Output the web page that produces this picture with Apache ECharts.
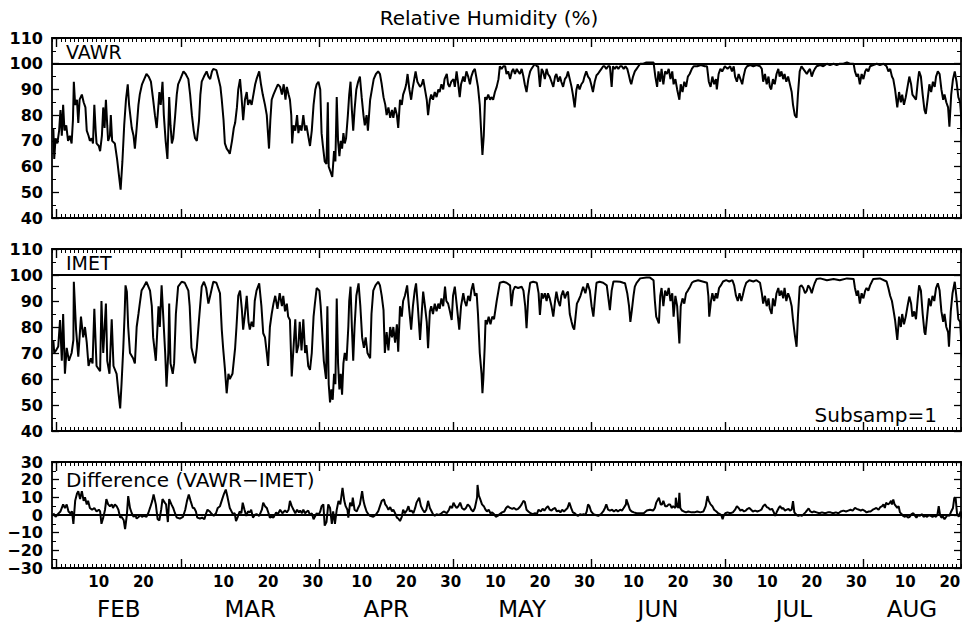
<!DOCTYPE html>
<html><head><meta charset="utf-8">
<script src="https://cdn.jsdelivr.net/npm/echarts@6/dist/echarts.min.js"></script>
<style>html,body{margin:0;padding:0;background:#fff}#c{width:964px;height:622px}</style>
</head><body><div id="c"></div>
<script>
// ---- axis / label data (x = day of year, Jan 1 00:00 = 0) ----
const monthNames = ['FEB','MAR','APR','MAY','JUN','JUL','AUG'];
const monthStarts = [31,59,90,120,151,181,212];
const monthLengths = [28,31,30,31,30,31,31];
const dayLabels = [10,20,30];
const X_MIN = 30, X_MAX = 234;
const rhRange = [40,110];
const diffRange = [-30,30];
const rhRef = 100;
const diffRef = 0;

// ---- series values: [day, value] ----
const vawrRH = [[30.3,75],[30.5,63],[30.8,71],[31.2,69],[31.6,74],[31.9,82],[32.2,72],[32.5,84],[32.8,74],[33.2,76],[33.6,70],[34.0,72],[34.4,69],[34.7,78],[34.9,93],[35.2,84],[35.6,86],[35.9,77],[36.2,86],[36.7,88],[37.1,85],[37.5,83],[37.8,74],[38.2,72],[38.5,70],[38.9,71],[39.2,69],[39.5,84],[39.8,74],[40.0,69],[40.5,68],[40.8,66],[41.2,72],[41.5,83],[41.8,75],[42.1,86],[42.4,76],[42.6,70],[43.0,72],[43.2,80],[43.5,70],[44.1,69],[44.6,63],[45.0,57],[45.4,51],[45.8,62],[46.2,76],[46.6,86],[47.0,92],[47.3,84],[47.9,75],[48.3,72],[48.6,67],[49.0,75],[49.4,84],[49.7,88],[50.2,92],[50.7,94],[51.2,96],[51.7,95],[52.2,93],[52.7,86],[53.1,80],[53.5,75],[53.8,82],[54.1,89],[54.4,84],[54.8,93],[55.1,80],[55.5,70],[55.9,63],[56.1,74],[56.3,87],[56.6,76],[56.9,69],[57.2,71],[57.6,79],[58.0,88],[58.3,92],[58.8,94],[59.5,97],[60.0,96],[60.6,94],[61.0,88],[61.4,80],[61.8,74],[62.1,71],[62.5,70],[63.0,78],[63.3,88],[63.6,93],[64.1,95],[64.7,97],[65.1,95],[65.5,94],[65.9,97],[66.2,98],[66.9,97.5],[67.4,94],[67.8,91],[68.1,86],[68.5,78],[68.8,69],[69.2,67],[69.6,66],[69.9,65],[70.4,70],[70.8,75],[71.1,77],[71.5,83],[71.8,90],[72.2,94],[72.5,88],[72.9,78],[73.3,86],[73.7,89],[74.0,84],[74.4,86],[74.8,84],[75.2,88],[75.6,92],[75.9,94],[76.5,97],[76.9,92],[77.3,88],[77.8,84],[78.2,80],[78.7,67],[79.0,78],[79.3,86],[79.7,88],[80.2,90],[80.7,92],[81.2,91],[81.6,88],[82.0,92],[82.4,86],[82.7,91],[83.1,88],[83.4,86],[83.7,80],[83.9,69],[84.2,76],[84.6,74],[85.0,80],[85.3,73],[85.6,76],[86.0,74],[86.4,80],[86.8,74],[87.1,76],[87.5,72],[87.9,68],[88.3,74],[88.7,84],[89.1,90],[89.4,92],[89.8,93],[90.2,90],[90.5,73],[90.8,68],[91.2,62],[91.6,61],[91.9,85],[92.1,60],[92.5,58],[92.9,56],[93.3,66],[93.6,62],[93.9,87],[94.2,70],[94.5,64],[94.8,70],[95.1,67],[95.4,73],[95.7,69],[96.0,71],[96.4,80],[96.7,88],[97.0,93],[97.3,82],[97.6,74],[97.9,82],[98.3,90],[98.7,93],[99.1,95],[99.5,87],[99.9,80],[100.2,76],[100.6,80],[100.9,74],[101.4,86],[101.8,90],[102.2,94],[102.7,96],[103.2,97],[103.6,96],[104.0,92],[104.4,87],[104.8,84],[105.1,80],[105.5,83],[105.9,79],[106.3,82],[106.6,79],[107.0,83],[107.4,80],[107.7,75],[108.1,86],[108.5,84],[108.8,88],[109.2,90],[109.5,92],[109.8,96],[110.2,90],[110.6,86],[110.9,90],[111.3,94],[111.6,97],[112.0,93],[112.6,91],[113.0,92],[113.3,94],[113.7,90],[114.1,86],[114.4,80],[114.8,86],[115.1,88],[115.5,86],[115.9,89],[116.3,87],[116.7,90],[117.0,89],[117.4,92],[117.8,90],[118.1,94],[118.6,96],[118.9,92],[119.2,91],[119.6,93],[120.1,94],[120.4,91],[120.8,97],[121.1,93],[121.5,87],[121.8,92],[122.3,95],[122.6,93],[123.0,97],[123.4,95],[123.8,92],[124.1,95],[124.5,97],[124.9,98],[125.3,94],[125.6,91],[126.0,84],[126.3,74],[126.6,64.5],[126.9,72],[127.2,87],[127.5,86],[127.9,88],[128.3,86],[128.6,87],[129.0,86],[129.4,89],[129.8,91],[130.2,94],[130.5,99],[130.9,98],[131.3,99],[131.7,99],[132.0,96],[132.4,97],[132.8,94],[133.2,97],[133.5,98],[133.9,96],[134.3,98],[134.6,97],[135.0,96],[135.4,98],[135.8,95],[136.1,92],[136.5,89],[136.9,94],[137.3,97],[137.6,98],[138.0,99],[138.4,100],[138.8,99],[139.1,99],[139.5,91],[139.9,98],[140.2,97],[140.6,94],[141.0,98],[141.3,96],[141.7,95],[142.1,93],[142.5,91],[142.9,95],[143.2,96],[143.6,93],[144.0,95],[144.3,93],[144.7,91],[145.1,94],[145.5,95],[145.8,97],[146.2,94],[146.6,91],[146.9,88],[147.3,83],[147.7,90],[148.0,92],[148.4,90],[148.8,92],[149.2,93],[149.5,95],[149.9,97],[150.3,95],[150.7,94],[151.0,92],[151.4,89],[151.8,93],[152.2,95.5],[152.5,96],[152.9,97],[153.3,98],[153.7,99],[154.0,99],[154.4,98],[154.8,99],[155.2,99],[155.6,91],[155.9,99],[156.3,98],[156.7,99],[157.1,98],[157.5,99],[157.9,99],[158.3,98],[158.7,99],[159.1,98],[159.4,96],[159.8,93],[160.0,92],[160.4,95],[160.8,97],[161.2,98],[161.6,99],[162.0,100],[162.7,100],[163.4,100.5],[164.2,100.5],[165.0,100.5],[165.4,95],[165.8,91],[166.1,97],[166.5,93],[166.8,98],[167.2,92],[167.6,97],[168.0,96],[168.4,98],[168.8,94],[169.2,97],[169.5,92],[169.9,94],[170.3,90],[170.8,86],[171.1,92],[171.5,89],[171.9,93],[172.3,91],[172.7,95],[173.1,96],[173.6,98],[174.0,99],[174.8,99],[175.6,99.5],[176.5,99],[177.0,99],[177.4,93],[177.8,91],[178.2,95],[178.6,92],[179.0,94],[179.2,90],[179.6,96],[180.0,98],[180.4,97],[181.0,99],[181.6,98],[182.2,99],[182.6,97],[183.0,99],[183.3,95],[183.7,93],[184.1,96],[184.5,94],[184.9,92],[185.2,95],[185.6,98],[186.0,99],[186.7,99.5],[187.4,99],[188.1,99.5],[188.9,99],[189.3,98],[189.6,93],[190.0,96],[190.4,92],[190.8,95],[191.1,91],[191.4,90],[191.8,94],[192.2,92],[192.6,96],[193.0,98],[193.3,95],[193.7,97],[194.1,94],[194.4,96],[194.8,93],[195.2,95],[195.6,92],[196.0,89],[196.3,84],[196.7,80],[197.1,79],[197.4,88],[197.8,97],[198.2,99],[198.6,98],[199.0,97],[199.4,96],[199.7,97],[200.1,98],[200.5,95],[200.9,97],[201.2,98],[201.6,99],[202.4,99.5],[203.1,99],[203.9,100],[204.6,99.5],[205.4,100],[206.1,99.5],[206.8,100],[207.6,100],[208.4,100.5],[209.1,100],[209.9,100],[210.2,97],[210.6,95],[210.9,96],[211.3,92],[211.7,96],[212.1,94],[212.5,97],[212.8,98],[213.2,97],[213.6,99],[214.3,99.5],[215.1,100],[215.8,99.5],[216.6,100],[217.3,99],[217.7,97],[218.1,98],[218.5,95],[218.8,94],[219.2,90],[219.7,83],[220.1,89],[220.5,85],[220.8,88],[221.2,84],[221.6,87],[222.0,91],[222.4,95],[222.8,92],[223.1,88],[223.5,87],[223.9,86],[224.3,93],[224.6,97],[225.0,95],[225.4,88],[225.8,82],[226.1,80.5],[226.5,86],[226.9,92],[227.3,89],[227.7,93],[228.1,91],[228.4,95],[228.8,97],[229.2,96],[229.6,90],[230.0,86],[230.3,88],[230.7,85],[231.1,83],[231.4,75.5],[231.8,88],[232.2,94],[232.6,97],[233.0,93],[233.4,87],[233.8,85],[234.2,76],[234.5,69]];

const imetRH = [[30.3,75],[30.5,70],[30.9,71],[31.4,72.5],[31.8,82.7],[32.2,67],[32.5,85],[32.9,62],[33.3,72],[33.8,67],[34.4,70],[34.8,75],[34.9,97.4],[35.4,79],[35.9,68.6],[36.5,84],[37.0,76],[37.4,80],[37.8,74],[38.2,65],[38.7,68],[39.1,66],[39.5,87],[40.0,65],[40.8,63],[41.1,90],[41.5,70],[42.1,89],[42.4,67],[42.9,62],[43.4,83],[43.8,65],[44.5,62],[44.9,55],[45.3,48.7],[45.6,58],[46.0,72],[46.3,85],[46.5,96],[46.8,93.6],[47.1,80],[47.5,70],[48.2,68],[48.6,66],[49.0,80],[49.4,85],[49.7,89],[50.1,94],[50.6,95.5],[51.2,97.4],[52.0,94],[52.4,88],[52.7,76],[53.3,67],[53.9,88],[54.2,80],[54.6,96],[55.0,83],[55.4,70],[55.7,57],[56.1,70],[56.3,89],[56.6,66],[57.1,62],[57.4,66],[57.8,85],[58.3,95.5],[59.1,97.4],[59.8,97],[60.6,94],[60.9,88],[61.3,72],[61.7,69],[62.1,66],[62.5,72],[63.0,83],[63.6,95.5],[64.1,97.4],[64.6,95],[65.1,89],[65.5,92],[66.2,97.4],[66.9,97],[67.7,93],[68.1,79],[68.4,72],[68.8,64],[69.2,54.5],[69.6,62],[69.9,60],[70.5,62],[71.1,72],[71.4,80],[71.8,92],[72.2,94],[72.6,87],[72.9,79],[73.3,85],[73.7,92],[74.1,82],[74.4,79],[74.8,82],[75.2,80],[75.5,90],[75.9,94],[76.5,96.8],[77.0,88],[77.4,77.6],[77.8,76],[78.2,70],[78.5,65],[78.9,80],[79.3,85],[79.7,89],[80.1,92],[80.6,87],[81.1,93],[81.6,88],[81.9,92],[82.3,86],[82.7,89],[83.0,84],[83.4,82.7],[83.8,61],[84.2,72],[84.6,83],[84.9,70],[85.3,73],[85.6,82],[86.0,71],[86.4,83],[86.8,70],[87.1,73],[87.5,65],[87.9,63.5],[88.3,70],[88.7,84],[89.0,89],[89.4,95],[90.0,94],[90.3,88],[90.7,76],[91.0,67],[91.5,60],[91.8,88],[92.1,58],[92.4,51],[92.7,56],[93.0,52],[93.3,62],[93.6,58],[93.9,91],[94.2,66],[94.5,56],[94.8,62],[95.1,54],[95.4,66],[95.7,70],[96.1,67],[96.5,80],[96.7,90],[97.0,95.5],[97.3,80],[97.6,67],[97.9,80],[98.3,92],[98.8,96.8],[99.2,88],[99.6,76],[100.0,72],[100.4,76],[100.8,70],[101.4,68],[101.7,85],[102.1,94],[102.6,96],[103.2,97.4],[103.6,96],[104.0,92],[104.4,86.5],[104.7,70],[105.1,78],[105.5,71],[105.9,80],[106.3,76],[106.6,80],[107.0,74],[107.4,81],[107.7,70.5],[108.1,88],[108.5,84],[108.8,90],[109.2,92],[109.7,96],[110.1,88],[110.6,79],[111.0,88],[111.4,94],[111.7,96.8],[112.1,88],[112.6,75],[113.0,86],[113.3,93.6],[113.7,88],[114.1,82],[114.4,71.8],[114.8,86],[115.1,88],[115.5,85],[115.9,89],[116.3,86],[116.7,89],[117.0,87],[117.4,91],[117.8,88],[118.2,95.5],[118.5,90],[118.9,89],[119.3,86],[119.7,82.7],[120.0,92],[120.4,95.5],[120.8,89],[121.1,84],[121.4,79],[121.8,88],[122.3,93],[122.6,90],[123.0,88],[123.4,92],[123.8,90],[124.1,94],[124.5,96.8],[124.9,92],[125.3,93],[125.6,85],[126.0,70],[126.4,62],[126.6,54.5],[126.8,60],[127.1,72],[127.3,82.7],[127.6,81],[128.0,84],[128.4,81],[128.8,84],[129.2,83],[129.8,90],[130.2,94],[130.5,97],[131.3,97.4],[132.0,97],[132.8,96],[133.1,88],[133.5,94],[133.9,95.5],[134.6,95],[135.4,95.5],[135.8,94],[136.2,88],[136.5,79.5],[136.9,92],[137.3,97],[138.0,97.4],[138.8,97],[139.2,93],[139.5,84.6],[139.9,93],[140.2,91],[140.6,93],[141.0,90],[141.3,93],[141.7,91],[142.1,88],[142.5,84],[142.9,90],[143.2,93.6],[143.6,90],[144.0,88],[144.3,92],[144.7,94],[145.1,91],[145.5,93],[145.8,93.6],[146.2,85],[146.6,82],[146.9,80],[147.2,79],[147.5,84],[147.8,89],[148.1,90],[148.6,92],[149.2,95.5],[149.7,93],[150.2,96.8],[150.7,94],[151.1,88],[151.5,84],[151.9,92],[152.2,97],[152.9,97.4],[153.7,97],[154.5,96],[154.8,92],[155.2,86.5],[155.6,94],[156.0,97.5],[156.7,97.5],[157.5,97.4],[158.2,97],[158.6,96.8],[159.1,93],[159.5,88],[159.8,82],[160.1,86],[160.5,92],[160.8,95.5],[161.2,97],[162.0,98.7],[163.4,99],[164.2,99],[165.0,98],[165.3,90],[165.6,84],[166.2,81.4],[166.5,92],[166.8,95],[167.2,88],[167.6,94],[168.0,92],[168.4,95],[168.8,90],[169.2,93],[169.5,84],[169.9,92],[170.3,88],[170.8,73.7],[171.1,88],[171.5,91],[171.9,89],[172.3,93],[172.7,94],[173.2,95.5],[173.6,97],[174.0,97.5],[175.0,98],[176.0,97.5],[177.0,97],[177.3,92],[177.5,84],[177.9,90],[178.2,93],[178.6,90],[179.0,93],[179.3,91],[179.7,95],[180.1,96],[180.6,97.5],[181.3,98],[182.0,97.5],[182.7,98],[183.1,96],[183.5,92],[183.9,90],[184.3,93],[184.7,90],[185.0,92],[185.4,95],[185.8,97],[186.5,98],[187.4,97.5],[188.1,98],[188.9,97],[189.3,93],[189.6,89],[190.0,92],[190.4,88],[190.8,91],[191.1,87],[191.5,85],[191.8,91],[192.2,88],[192.6,93],[193.0,95],[193.3,92],[193.7,94],[194.1,91],[194.4,95],[194.8,90],[195.2,93],[195.6,91],[196.0,88],[196.3,82.7],[196.7,77],[197.1,72.4],[197.4,84],[197.8,95.5],[198.2,96],[198.6,95],[199.0,93],[199.4,94],[199.7,96],[200.1,95],[200.5,93],[200.9,95.5],[201.2,97],[201.6,98.5],[202.4,98.7],[203.9,98],[205.4,98.5],[206.8,98],[208.4,98.7],[209.9,98.5],[210.2,95],[210.6,92],[210.9,94],[211.3,89],[211.7,93],[212.1,91],[212.5,94],[212.8,95],[213.2,94],[213.6,96],[214.3,98.5],[215.8,98.7],[217.3,97.5],[217.7,95],[218.1,92],[218.5,90],[218.8,87],[219.2,82.7],[219.7,75],[220.1,84],[220.5,80],[220.8,85],[221.2,81],[221.6,84],[222.0,88],[222.4,91.7],[222.8,89],[223.1,84],[223.5,86],[223.9,83],[224.3,91],[224.6,96],[225.0,94],[225.4,85],[225.8,78],[226.0,77],[226.4,84],[226.8,91],[227.2,88],[227.6,92],[228.0,90],[228.4,95],[228.8,96.8],[229.2,94],[229.6,86],[230.0,82],[230.3,85],[230.7,80],[231.1,78],[231.3,72.4],[231.7,86],[232.1,93],[232.6,97.4],[233.0,91],[233.4,83],[233.8,82],[234.2,70],[234.5,65]];

const diffRH = [[30.3,1],[30.8,-1],[31.3,0.5],[31.9,2],[32.5,6],[32.9,4],[33.3,6],[33.7,2],[34.1,1],[34.5,2],[34.8,-5],[35.2,8],[35.6,12],[35.9,13.5],[36.3,9],[36.7,13.5],[37.1,8],[37.4,10],[37.8,6],[38.1,8],[38.5,4],[39.0,3],[39.5,4],[40.0,2],[40.5,3],[40.8,2],[41.1,-5],[41.5,-1.5],[41.9,3],[42.2,9],[42.6,6],[43.0,5],[43.4,6],[43.7,4],[44.1,6],[44.5,5],[44.9,3],[45.3,-1.5],[45.6,-1],[46.1,-3],[46.4,-8],[46.8,0],[47.1,10.7],[47.5,4],[47.9,1],[48.3,-1],[48.7,0],[49.0,-2],[49.5,-1],[49.8,0],[50.2,-1],[50.6,-0.5],[51.2,-1],[51.6,1],[52.0,4],[52.5,8],[52.8,11.6],[53.3,6],[53.7,-2.4],[54.1,-3],[54.5,3],[54.8,9],[55.3,7],[55.6,6],[56.0,-4],[56.3,9],[56.8,6],[57.2,4],[57.6,1],[58.0,-1.5],[58.7,-2],[59.4,-1],[59.9,3],[60.3,8],[60.7,11.6],[61.1,8],[61.6,4],[61.9,4],[62.3,2],[62.6,-1.5],[63.2,-2],[63.7,-1.5],[64.2,-2.4],[64.6,1],[64.9,3],[65.4,2],[65.7,1],[66.3,-0.5],[66.8,1],[67.2,4],[67.7,5],[68.2,9],[68.6,12],[69.0,14.4],[69.4,10],[69.9,4],[70.6,0.5],[71.0,1],[71.3,-3.4],[71.7,-1],[72.1,2],[72.5,1],[72.8,7],[73.2,3],[73.6,-0.5],[74.0,2],[74.4,1.5],[74.7,3],[75.1,-1.5],[75.5,0],[75.9,0.5],[76.5,-0.5],[77.1,3],[77.4,7],[77.8,5],[78.2,4],[78.6,1],[78.9,-1.5],[79.3,-1],[79.7,-1.5],[80.3,1.5],[80.7,0.5],[81.2,3],[81.7,1],[82.3,2.5],[82.7,1.5],[83.1,3],[83.4,8],[83.8,5],[84.2,3],[84.6,1],[85.0,3],[85.4,1.5],[85.7,2.5],[86.1,1],[86.4,3],[86.8,1],[87.2,2],[87.5,2.5],[87.9,0],[88.3,1],[88.7,-2.4],[89.4,1],[89.8,0],[90.2,2],[90.5,5],[90.9,6],[91.2,-6],[91.6,-4],[92.0,6],[92.4,4],[92.8,-5],[93.1,2],[93.5,-5],[93.9,3],[94.3,8],[94.7,6],[95.2,15.4],[95.6,8],[95.9,5],[96.3,3],[96.5,-1.5],[96.9,7],[97.3,5],[97.5,9.8],[97.9,3],[98.4,2],[98.7,4],[99.1,6],[99.6,13.5],[99.9,8],[100.2,5],[100.6,2],[101.0,0.4],[101.4,-0.5],[102.1,-1],[102.6,0],[103.2,2],[103.6,5],[104.0,8],[104.5,8.8],[104.8,6],[105.1,5],[105.5,3],[105.9,4.5],[106.3,2],[106.6,3],[107.0,1],[107.4,-1.5],[107.7,-2],[108.1,-3.4],[108.5,-1],[108.8,3],[109.2,1],[109.7,3],[110.0,5],[110.3,2],[110.7,2.5],[111.1,1],[111.5,4],[111.8,7],[112.4,9.8],[112.8,5],[113.2,3],[113.6,1.5],[114.0,3],[114.4,8],[114.8,4],[115.2,2],[115.5,0.5],[115.9,-0.5],[116.3,0.5],[116.8,0],[117.4,1],[117.9,2],[118.6,1],[119.1,3],[119.4,5],[119.8,4],[120.1,7],[120.5,5],[120.8,4],[121.2,5],[121.6,7],[122.0,4],[122.5,3],[122.9,4],[123.3,6],[123.7,5],[124.1,3],[124.5,2],[124.9,4],[125.4,10],[125.5,17],[125.8,11],[126.1,9],[126.5,6],[126.9,5],[127.3,3],[127.6,2],[128.0,3],[128.4,1],[128.8,1.5],[129.2,0.5],[129.6,-1],[130.0,-0.5],[130.5,0.5],[131.0,1.5],[131.5,2],[131.9,4],[132.3,5],[132.8,4],[133.3,3.5],[133.7,4],[134.2,3],[134.6,3.5],[135.0,4.5],[135.4,6],[135.8,8],[136.1,7.5],[136.5,3],[136.9,2],[137.4,1],[137.9,0.5],[138.4,1],[138.8,0.5],[139.2,3],[139.7,2],[140.1,3.5],[140.5,2.5],[140.9,4],[141.3,5],[141.7,3],[142.1,2.5],[142.5,3.5],[142.9,4],[143.3,2],[143.7,2.5],[144.1,1.5],[144.5,3],[144.9,2],[145.3,3],[145.7,4],[146.1,7],[146.5,4],[146.9,1.5],[147.3,1],[147.7,0],[148.1,-0.5],[148.5,0.5],[148.9,0],[149.3,0.5],[149.7,0],[150.0,2],[150.3,6],[150.6,5],[151.0,2],[151.5,0.5],[152.0,0],[152.6,-0.5],[153.2,0.5],[153.7,2],[154.1,4],[154.4,6],[154.8,3],[155.2,2.5],[155.7,3],[156.1,2],[156.6,3],[157.0,2],[157.5,3],[157.9,2.5],[158.3,4],[158.8,6],[158.9,8.8],[159.3,6],[159.7,3],[160.1,2],[160.6,1.5],[161.2,1],[162.0,1],[162.8,1],[163.5,2.5],[164.2,3],[164.9,2.5],[165.3,4],[165.6,7],[166.2,9.8],[166.6,6],[166.9,6],[167.2,8],[167.6,5],[168.0,5],[168.4,6],[168.7,6],[169.1,4],[169.4,5],[169.9,4],[170.0,9.8],[170.3,5],[170.6,4],[170.8,12.6],[171.0,4],[171.4,2.5],[171.8,2],[172.3,1.5],[172.8,2],[173.5,1.5],[174.2,1.5],[174.8,2],[175.5,1.5],[176.2,2],[176.7,5],[177.1,10.7],[177.4,8],[177.8,6],[178.2,5],[178.6,3],[179.1,2],[179.5,1],[179.9,0.5],[180.2,0],[180.5,-2.4],[180.8,0],[181.1,1],[181.6,1.5],[182.2,1],[182.8,1.5],[183.3,3],[183.7,5],[184.1,4],[184.5,2.5],[184.9,3],[185.3,2],[185.7,2.5],[186.1,3.5],[186.5,4],[186.9,3],[187.3,2],[187.8,2.5],[188.3,2],[188.8,2.5],[189.2,3],[189.6,5],[190.0,6],[190.4,4.5],[190.8,4],[191.2,3],[191.6,3.5],[191.9,2],[192.3,-0.5],[192.7,2],[193.1,4],[193.4,5],[193.8,3.5],[194.1,4],[194.5,2.5],[194.9,3],[195.3,3.5],[195.6,2.5],[196.0,3],[196.3,7.9],[196.6,1.5],[197.1,0],[197.5,-0.5],[197.9,0],[198.3,-0.5],[198.7,0.5],[199.1,1.5],[199.4,2.5],[199.8,3.7],[200.2,2],[200.6,1.5],[201.0,2],[201.6,1.5],[202.2,1],[202.8,1.5],[203.5,1],[204.1,1.5],[204.7,1.5],[205.3,1],[205.9,1.5],[206.5,1],[207.0,2],[207.6,2.5],[208.2,2],[208.7,2.5],[209.2,3],[209.7,2.5],[210.2,4],[210.6,3.5],[211.1,3],[211.5,2.5],[211.9,3],[212.3,2.5],[212.8,1.5],[213.3,2],[213.7,2],[214.2,3],[214.6,3.5],[215.0,4],[215.5,3],[215.9,4.5],[216.3,5],[216.6,6],[216.9,4],[217.2,7],[217.6,6],[217.9,6.5],[218.3,8],[218.5,6],[218.8,8.8],[219.1,6],[219.4,5],[219.7,4],[220.0,5],[220.3,1.5],[220.7,0.5],[221.0,-0.5],[221.4,-1],[221.7,-0.5],[222.1,-1.5],[222.5,-1],[222.9,0.5],[223.3,1],[223.7,-0.5],[224.0,-1.5],[224.4,0],[224.8,-0.5],[225.2,0.5],[225.6,-1],[226.0,-0.5],[226.4,-1],[226.8,0],[227.2,-0.5],[227.6,-1],[228.0,-0.5],[228.4,-1],[228.7,0],[229.0,5],[229.3,0],[229.6,-1.5],[230.0,-1],[230.3,-2.4],[230.7,-1],[231.0,0],[231.4,-0.5],[231.8,2],[232.2,4],[232.5,9.8],[232.8,9.5],[233.1,1],[233.5,-1],[233.9,2],[234.3,-2]];

// ---- derived label positions ----
const dayLabelValues = [];
monthStarts.forEach((s, i) => {
  dayLabels.forEach(d => {
    const v = s + d - 0.5;
    if (d <= monthLengths[i] && v <= X_MAX) dayLabelValues.push(v);
  });
});
const monthMids = monthStarts.map((s, i) => {
  const a = Math.max(s, X_MIN), b = Math.min(s + monthLengths[i], X_MAX);
  return (a + b) / 2;
});
function dayOfMonth(v) {
  let i = monthStarts.length - 1;
  while (i > 0 && monthStarts[i] > v) i--;
  return String(Math.round(v - monthStarts[i] + 0.5));
}
function monthName(v) {
  const i = monthMids.findIndex(m => Math.abs(m - v) < 0.01);
  return i >= 0 ? monthNames[i] : '';
}

const FONT = 'DejaVu Sans';
const BLACK = '#000';
const grids = [
  {left: 52, top: 38, width: 909, height: 180},
  {left: 52, top: 249, width: 909, height: 182},
  {left: 52, top: 462, width: 909, height: 106}
];
const yRanges = [rhRange, rhRange, diffRange];
const seriesData = [vawrRH, imetRH, diffRH];
const refValues = [rhRef, rhRef, diffRef];

const xAxis = [], yAxis = [], series = [];
grids.forEach((g, gi) => {
  const base = {type: 'value', gridIndex: gi, min: X_MIN, max: X_MAX,
    splitLine: {show: false}, axisLabel: {show: false}};
  const lineOn = {show: true, onZero: false, lineStyle: {color: BLACK, width: 1.8}};
  const lineOff = {show: false, onZero: false};
  const dailyIdx = xAxis.length;
  ['bottom', 'top'].forEach(pos => {
    xAxis.push(Object.assign({}, base, {position: pos, interval: 1, axisLine: lineOn,
      axisTick: {show: true, inside: true, length: 4, lineStyle: {color: BLACK, width: 1}}}));
    const monthAx = Object.assign({}, base, {position: pos, axisLine: lineOff,
      axisTick: {show: true, inside: true, length: 9, customValues: monthStarts,
        lineStyle: {color: BLACK, width: 1.4}}});
    if (gi === 2 && pos === 'bottom') {
      monthAx.axisLabel = {show: true, customValues: dayLabelValues, formatter: dayOfMonth,
        margin: 6, fontSize: 15, fontWeight: 'bold', fontFamily: FONT, color: BLACK};
    }
    xAxis.push(monthAx);
  });
  if (gi === 2) {
    xAxis.push(Object.assign({}, base, {position: 'bottom', axisLine: lineOff,
      axisTick: {show: false},
      axisLabel: {show: true, customValues: monthMids, formatter: monthName,
        margin: 29, fontSize: 23, fontFamily: FONT, color: BLACK}}));
  }
  const yIdx = yAxis.length;
  ['left', 'right'].forEach(pos => {
    yAxis.push({type: 'value', gridIndex: gi, position: pos, min: yRanges[gi][0], max: yRanges[gi][1],
      interval: 10, splitLine: {show: false},
      axisLine: {show: true, onZero: false, lineStyle: {color: BLACK, width: 1.8}},
      axisTick: {show: true, inside: true, length: 7, lineStyle: {color: BLACK, width: 1.3}},
      minorTick: {show: true, splitNumber: 2, length: 4, lineStyle: {color: BLACK, width: 1}},
      minorSplitLine: {show: false},
      axisLabel: pos === 'left' ? {show: true, margin: 9, fontSize: 16, fontWeight: 'bold',
        fontFamily: FONT, color: BLACK, formatter: v => String(v).replace('-', '\u2212')} : {show: false}
    });
  });
  series.push({type: 'line', xAxisIndex: dailyIdx, yAxisIndex: yIdx, data: seriesData[gi],
    symbol: 'none', showSymbol: false, animation: false,
    lineStyle: {color: BLACK, width: 2},
    markLine: {silent: true, symbol: 'none', animation: false, label: {show: false},
      lineStyle: {color: BLACK, width: 1.8, type: 'solid'}, data: [{yAxis: refValues[gi]}]}
  });
});

const txt = (text, x, y, size, align) => ({type: 'text', x: x, y: y, silent: true,
  style: {text: text, fontSize: size, fontFamily: FONT, fill: BLACK, align: align || 'left', verticalAlign: 'middle'}});

const chart = echarts.init(document.getElementById('c'), null, {renderer: 'svg'});
chart.setOption({
  animation: false,
  backgroundColor: '#fff',
  grid: grids.map(g => Object.assign({show: false, containLabel: false}, g)),
  xAxis: xAxis,
  yAxis: yAxis,
  series: series,
  graphic: [
    txt('Relative Humidity (%)', 489, 18, 20, 'center'),
    txt('VAWR', 66, 52, 19),
    txt('IMET', 66, 263, 19),
    txt('Difference (VAWR\u2212IMET)', 66, 480, 20),
    txt('Subsamp=1', 937, 415, 20, 'right')
  ]
});
</script>
</body></html>
